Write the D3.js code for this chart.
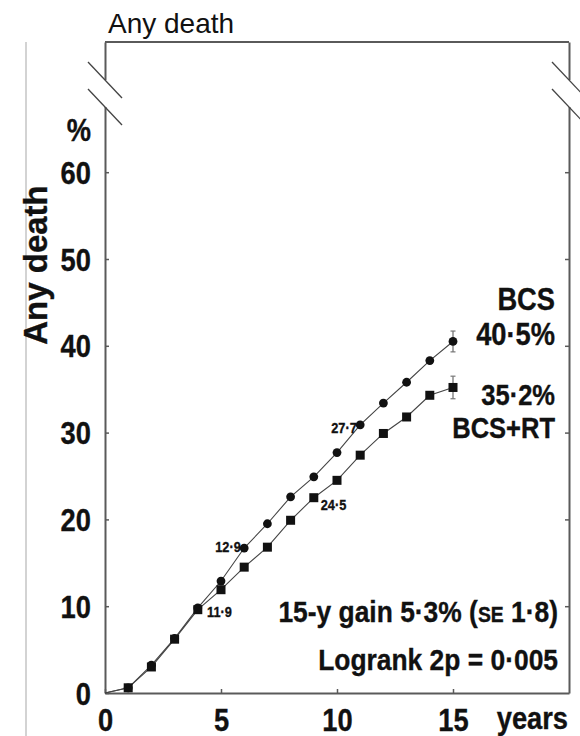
<!DOCTYPE html>
<html>
<head>
<meta charset="utf-8">
<script src="https://cdn.jsdelivr.net/npm/d3@7"></script>
<style>
  html, body { margin: 0; padding: 0; background: #fff; }
  svg { display: block; }
  text { font-family: "Liberation Sans", Arial, sans-serif; fill: #111; }
  text.heavy { stroke: #111; stroke-width: 0.35px; }
</style>
</head>
<body>
<svg id="chart" width="580" height="736"></svg>
<script>
// data
const years = [0, 1, 2, 3, 4, 5, 6, 7, 8, 9, 10, 11, 12, 13, 14, 15];
const bcs   = [0, 0.6, 3.2, 6.3, 9.8, 12.9, 16.7, 19.5, 22.6, 24.9, 27.7, 30.9, 33.4, 35.8, 38.3, 40.5];
const bcsRt = [0, 0.6, 3.0, 6.2, 9.6, 11.9, 14.5, 16.8, 19.9, 22.5, 24.5, 27.4, 29.9, 31.8, 34.3, 35.2];
const seAt15 = [1.2, 1.3];            // BCS, BCS+RT
const yTicks = [0, 10, 20, 30, 40, 50, 60];
const xTicks = [0, 5, 10, 15];
const pointLabels = [
  { text: '12·9', t: 5.85, v: 16.3, anchor: 'end' },
  { text: '27·7', t: 10.85, v: 30.0, anchor: 'end' },
  { text: '11·9', t: 4.4,  v: 8.7,  anchor: 'start' },
  { text: '24·5', t: 9.3,  v: 21.1, anchor: 'start' }
];

const svg = d3.select('#chart');
const x = d3.scaleLinear().domain([0, 20]).range([105, 569]);
const y = d3.scaleLinear().domain([0, 75]).range([693, 42]);
const frame = '#5a5a5a';
const SX = 0.88; // condensed look

// helper for condensed text
function txt(g, str, px, py, size, anchor, weight, sx) {
  return g.append('text')
    .attr('class', (weight || 'bold') === 'bold' ? 'heavy' : null)
    .attr('transform', `translate(${px},${py}) scale(${sx === undefined ? SX : sx},1)`)
    .attr('text-anchor', anchor || 'start')
    .attr('font-size', size)
    .attr('font-weight', weight || 'bold')
    .text(str);
}

// faint panel divider on the far left
svg.append('line')
  .attr('x1', 26).attr('x2', 26).attr('y1', y(75)).attr('y2', 736)
  .attr('stroke', '#c4c4c4').attr('stroke-width', 1.5);

// axes
const yAxis = d3.axisLeft(y).tickValues(yTicks).tickSize(-4).tickSizeOuter(0).tickPadding(16);
const gy = svg.append('g').attr('transform', `translate(${x(0)},0)`).call(yAxis);
gy.selectAll('text').attr('font-size', 31).attr('font-weight', 'bold')
  .attr('transform', `scale(${SX},1)`).attr('dy', '0.36em');

const yAxisR = d3.axisRight(y).tickValues(yTicks.slice(1)).tickSize(-4).tickSizeOuter(0).tickFormat(() => '');
const gyr = svg.append('g').attr('transform', `translate(${x(20)},0)`).call(yAxisR);

const xAxis = d3.axisBottom(x).tickValues(xTicks).tickSize(-4).tickSizeOuter(0).tickPadding(16);
const gx = svg.append('g').attr('transform', `translate(0,${y(0)})`).call(xAxis);
gx.selectAll('text').attr('font-size', 31).attr('font-weight', 'bold')
  .attr('transform', `scale(${SX},1)`);

[gy, gyr, gx].forEach(g => {
  g.attr('font-family', null);
  g.select('.domain').attr('stroke', frame).attr('stroke-width', 2);
  g.selectAll('.tick line').attr('stroke', frame).attr('stroke-width', 1.5);
  g.selectAll('text').attr('fill', '#111').attr('class', 'heavy');
});

// top border
svg.append('line')
  .attr('x1', x(0)).attr('x2', x(20)).attr('y1', y(75)).attr('y2', y(75))
  .attr('stroke', frame).attr('stroke-width', 2);

// axis break marks on both side axes
[x(0), x(20)].forEach(ax => {
  const b1 = 80, b2 = 107, hw = 17, k = 1.06;
  svg.append('rect').attr('x', ax - 3).attr('y', b1).attr('width', 6).attr('height', b2 - b1)
    .attr('fill', '#fff');
  [b1, b2].forEach(by => {
    svg.append('line')
      .attr('x1', ax - hw).attr('y1', by - hw * k)
      .attr('x2', ax + hw).attr('y2', by + hw * k)
      .attr('stroke', '#444').attr('stroke-width', 1.3);
  });
});

// curves
const series = [
  { vals: bcs, shape: 'circle', se: seAt15[0] },
  { vals: bcsRt, shape: 'square', se: seAt15[1] }
];
const line = d3.line().x((d, i) => x(years[i])).y(d => y(d));

series.forEach(s => {
  svg.append('path').datum(s.vals)
    .attr('d', line).attr('fill', 'none')
    .attr('stroke', '#444').attr('stroke-width', 1.1);

  // error bar at 15 years
  const last = s.vals.length - 1;
  const ex = x(years[last]);
  svg.append('line')
    .attr('x1', ex).attr('x2', ex)
    .attr('y1', y(s.vals[last] - s.se)).attr('y2', y(s.vals[last] + s.se))
    .attr('stroke', '#777').attr('stroke-width', 1.3);
  [s.vals[last] - s.se, s.vals[last] + s.se].forEach(v => {
    svg.append('line').attr('x1', ex - 2.5).attr('x2', ex + 2.5)
      .attr('y1', y(v)).attr('y2', y(v)).attr('stroke', '#777').attr('stroke-width', 1.2);
  });

  const pts = years.map((t, i) => ({ t, v: s.vals[i] })).filter(p => p.t > 0);
  if (s.shape === 'circle') {
    svg.append('g').selectAll('circle').data(pts).enter()
      .append('circle')
      .attr('cx', p => x(p.t)).attr('cy', p => y(p.v)).attr('r', 4.4)
      .attr('fill', '#111');
  } else {
    svg.append('g').selectAll('rect').data(pts).enter()
      .append('rect')
      .attr('x', p => x(p.t) - 4.5).attr('y', p => y(p.v) - 4.5)
      .attr('width', 9).attr('height', 9)
      .attr('fill', '#111');
  }
});

// small value labels
pointLabels.forEach(l => txt(svg, l.text, x(l.t), y(l.v), 15, l.anchor, 'bold', 0.85));

// titles and annotations
txt(svg, 'Any death', 108, 33, 28, 'start', 'normal', 1);
svg.append('text')
  .attr('class', 'heavy')
  .attr('transform', 'translate(47,265) rotate(-90)')
  .attr('text-anchor', 'middle').attr('font-size', 33).attr('font-weight', 'bold')
  .text('Any death');
txt(svg, '%', 91, 141, 31, 'end');
txt(svg, 'years', 568, 729, 31, 'end');

txt(svg, 'BCS', 555, 310, 31, 'end');
txt(svg, '40·5%', 555, 345, 31, 'end');
txt(svg, '35·2%', 555, 405, 29, 'end');
txt(svg, 'BCS+RT', 555, 438, 29, 'end');

const gain = txt(svg, '', 558, 622, 30, 'end');
gain.append('tspan').text('15-y gain 5·3% (');
gain.append('tspan').attr('font-size', 22).text('SE');
gain.append('tspan').text(' 1·8)');
txt(svg, 'Logrank 2p = 0·005', 558, 670, 30, 'end');
</script>
</body>
</html>
